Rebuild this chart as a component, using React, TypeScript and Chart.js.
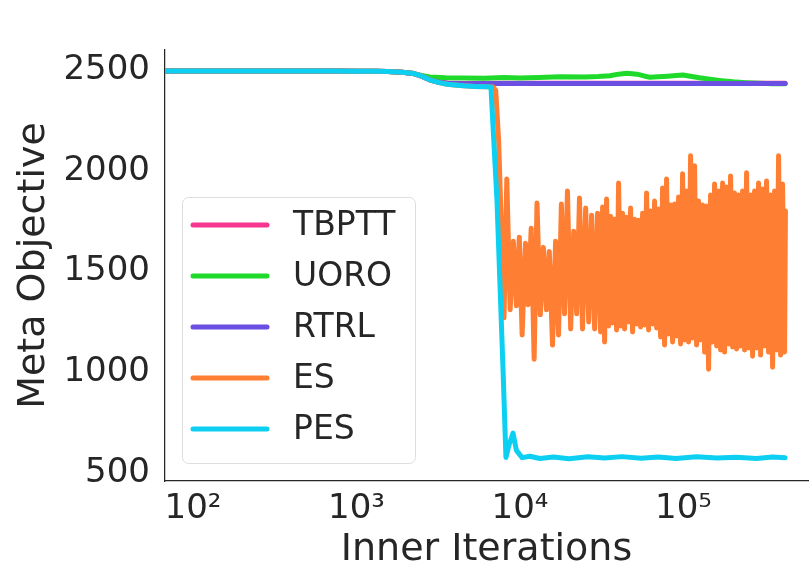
import React, { useEffect, useRef } from 'react';
import { Chart, registerables } from 'chart.js';

Chart.register(...registerables);

const FONT = "'DejaVu Sans', 'Liberation Sans', sans-serif";
const TEXT = '#262626';

const seriesNames = ['TBPTT', 'UORO', 'RTRL', 'ES', 'PES'];
const seriesColors = ['#f7378f', '#1fd92b', '#6a4fe2', '#fe7f33', '#0ccff1'];

const xTickValues = [100, 1000, 10000, 100000];
const xTickLabels = ['10²', '10³', '10⁴', '10⁵'];
const yTickValues = [500, 1000, 1500, 2000, 2500];

const tbpttX = [67.4, 100, 200, 400, 700, 1000, 1300, 1550, 1900, 2240, 2500, 2800, 3200, 3590, 4530, 6300, 7000, 418000];
const tbpttY = [2496, 2496, 2496, 2496, 2496, 2495, 2494, 2493, 2489, 2483, 2470, 2452, 2440, 2436, 2434, 2435, 2435, 2435];

const uoroX = [67.4, 100, 200, 400, 700, 1000, 1300, 1550, 1900, 2240, 2500, 2800, 3500, 4500, 6000, 8000, 10000, 13000, 17600, 25000, 30000, 35500, 40000, 45100, 52000, 58000, 62400, 70000, 80000, 90000, 99300, 110000, 125000, 145000, 170000, 200700, 240000, 293900, 350000, 418000];
const uoroY = [2496, 2496, 2496, 2496, 2496, 2495, 2494, 2493, 2489, 2483, 2474, 2466, 2462, 2461, 2460, 2463, 2461, 2464, 2467, 2466, 2468, 2472, 2480, 2484, 2480, 2470, 2465, 2467, 2470, 2473, 2476, 2470, 2462, 2455, 2448, 2442, 2438, 2435, 2433, 2432];

const rtrlX = [67.4, 100, 200, 400, 700, 1000, 1300, 1550, 1900, 2240, 2500, 2800, 3200, 3590, 4530, 6300, 7000, 418000];
const rtrlY = [2496, 2496, 2496, 2496, 2496, 2495, 2494, 2493, 2489, 2483, 2470, 2452, 2440, 2435, 2433, 2434, 2434, 2434];

const esX = [67.4, 100, 200, 400, 700, 1000, 1300, 1550, 1900, 2240, 2500, 2800, 3200, 3590, 4000, 4530, 5300, 6300, 6850, 7100, 7400, 7700, 7980,
  8300, 8700, 9100, 9500, 9900, 10300, 10800, 11200, 11700, 12200,
  12700, 13300, 13900, 14500, 15100, 15800, 16500, 17200, 17900, 18700,
  19500, 20400, 21300, 22200, 23100, 24100, 25200, 26300, 27400, 28600,
  29800,
  31100, 31990, 32900, 33840, 34810, 35800, 36830, 37880, 38960, 40070,
  41220, 42390, 43600, 44850, 46130, 47450, 48800, 50200, 51630, 53100,
  54620, 56180, 57780, 59430, 61130, 62870, 64670, 66510, 68410, 70370,
  72380, 74440, 76570, 78760, 81010, 83320, 85700, 88150, 90670, 93260,
  95920, 98660, 101480, 104380, 107360, 110430, 113580, 116830, 120160, 123600,
  127130, 130760, 134490, 138330, 142290, 146350, 150530, 154830, 159250, 163800,
  168480, 173290, 178240, 183330, 188570, 193950, 199490, 205190, 211050, 217080,
  223280, 229660, 236220, 242970, 249910, 257050, 264390, 271940, 279710, 287700,
  295920, 304370, 313060, 322000, 331200, 340660, 350390, 360400, 370690, 381280,
  392170, 403370, 414890, 420000];
const esY = [2496, 2496, 2496, 2496, 2496, 2495, 2494, 2493, 2489, 2483, 2470, 2452, 2438, 2430, 2426, 2422, 2419, 2417, 2416, 2400, 2150, 1700, 1270,
  1960, 1310, 1650, 1330, 1670, 1185, 1640, 1335, 1715, 1065,
  1840, 1285, 1620, 1310, 1600, 1135, 1650, 1185, 1835, 1290,
  1900, 1215, 1700, 1290, 1865, 1215, 1815, 1250, 1780, 1215,
  1790,
  1200, 1820, 1150, 1860, 1230, 1775, 1245, 1760, 1210, 1940,
  1230, 1790, 1215, 1770, 1250, 1815, 1200, 1760, 1240, 1755,
  1225, 1790, 1235, 1890, 1210, 1800, 1240, 1850, 1220, 1810,
  1175, 1915, 1135, 1960, 1190, 1830, 1150, 1835, 1180, 1870,
  1140, 1985, 1160, 1900, 1150, 2075, 1170, 2025, 1135, 1850,
  1160, 1830, 1100, 1825, 1015, 1880, 1150, 1935, 1130, 1900,
  1110, 1940, 1100, 1920, 1140, 1975, 1125, 1890, 1115, 1880,
  1130, 1900, 1110, 1990, 1120, 1880, 1080, 1900, 1120, 1940,
  1085, 1910, 1130, 1950, 1100, 1880, 1025, 1900, 1110, 2075,
  1085, 1935, 1100, 1800];

const pesX = [67.4, 100, 200, 400, 700, 1000, 1300, 1550, 1900, 2240, 2500, 2800, 3200, 3590, 4000, 4530, 5300, 6300, 6640, 7230, 7870, 8200, 8570, 9060, 9500, 10300, 11500, 13200, 16000, 20000, 26000, 33000, 42000, 55000, 70000, 90000, 120000, 160000, 210000, 280000, 350000, 418000];
const pesY = [2496, 2496, 2496, 2496, 2496, 2495, 2494, 2493, 2489, 2483, 2470, 2452, 2438, 2430, 2426, 2422, 2419, 2417, 2416, 1850, 1015, 577, 640, 698, 612, 576, 583, 572, 579, 571, 580, 574, 581, 573, 579, 572, 580, 574, 578, 572, 579, 575];

const seriesX = [tbpttX, uoroX, rtrlX, esX, pesX];
const seriesY = [tbpttY, uoroY, rtrlY, esY, pesY];

const boxLegend = {
  id: 'boxLegend',
  afterDatasetsDraw(chart: any) {
    const { ctx, chartArea } = chart;
    const left = chartArea.left + 17;
    const top = chartArea.top + 147;
    const w = 233;
    const h = 266;
    ctx.save();
    ctx.beginPath();
    ctx.roundRect(left + 0.5, top + 0.5, w, h, 6);
    ctx.fillStyle = 'rgba(255,255,255,0.85)';
    ctx.fill();
    ctx.strokeStyle = '#dddddd';
    ctx.lineWidth = 1;
    ctx.stroke();
    chart.data.datasets.forEach((ds: any, i: number) => {
      const y = top + 28 + i * 51;
      ctx.beginPath();
      ctx.moveTo(left + 11, y);
      ctx.lineTo(left + 85, y);
      ctx.strokeStyle = ds.borderColor;
      ctx.lineWidth = 5;
      ctx.lineCap = 'round';
      ctx.stroke();
      ctx.fillStyle = TEXT;
      ctx.font = `33px ${FONT}`;
      ctx.textAlign = 'left';
      ctx.textBaseline = 'middle';
      ctx.fillText(ds.label, left + 111, y + 1);
    });
    ctx.restore();
  },
};

export default function App() {
  const canvasRef = useRef<HTMLCanvasElement | null>(null);

  useEffect(() => {
    const canvas = canvasRef.current;
    if (!canvas) return;
    const datasets = seriesNames.map((name, i) => ({
      label: name,
      data: seriesX[i].map((x, j) => ({ x, y: seriesY[i][j] })),
      borderColor: seriesColors[i],
      backgroundColor: seriesColors[i],
      borderWidth: 5,
      pointRadius: 0,
      tension: 0,
      borderCapStyle: 'round' as const,
      borderJoinStyle: 'round' as const,
      order: seriesNames.length - i,
    }));
    const chart = new Chart(canvas, {
      type: 'line',
      data: { datasets },
      options: {
        responsive: false,
        animation: false,
        layout: { padding: { left: 0, right: 1, top: 50, bottom: 0 } },
        plugins: { legend: { display: false }, tooltip: { enabled: false } },
        scales: {
          x: {
            type: 'logarithmic',
            min: 67.4,
            max: 577000,
            grid: { display: false, drawTicks: false },
            border: { display: true, color: TEXT, width: 1.25 },
            afterBuildTicks: (s: any) => {
              s.ticks = xTickValues.map((v) => ({ value: v }));
            },
            ticks: {
              autoSkip: false,
              maxRotation: 0,
              padding: 8,
              color: TEXT,
              font: { family: FONT, size: 34 },
              callback: (_v: any, i: number) => xTickLabels[i],
            },
            title: {
              display: true,
              text: 'Inner Iterations',
              color: TEXT,
              font: { family: FONT, size: 38, lineHeight: 1 },
              padding: { top: 0, bottom: 0 },
            },
            afterFit: (s: any) => {
              s.height = 88;
            },
          },
          y: {
            type: 'linear',
            min: 460,
            max: 2600,
            grid: { display: false, drawTicks: false },
            border: { display: true, color: TEXT, width: 1.25 },
            afterBuildTicks: (s: any) => {
              s.ticks = yTickValues.map((v) => ({ value: v }));
            },
            ticks: {
              padding: 15,
              color: TEXT,
              font: { family: FONT, size: 34 },
              callback: (v: any) => String(v),
            },
            title: {
              display: true,
              text: 'Meta Objective',
              color: TEXT,
              font: { family: FONT, size: 38, lineHeight: 1 },
              padding: { top: 15, bottom: 0 },
            },
            afterFit: (s: any) => {
              s.width = 165;
            },
          },
        },
      },
      plugins: [boxLegend],
    });
    return () => chart.destroy();
  }, []);

  return (
    <div style={{ position: 'absolute', left: 0, top: 0, width: 809, height: 569, background: '#fff' }}>
      <canvas ref={canvasRef} width={809} height={569} />
    </div>
  );
}
